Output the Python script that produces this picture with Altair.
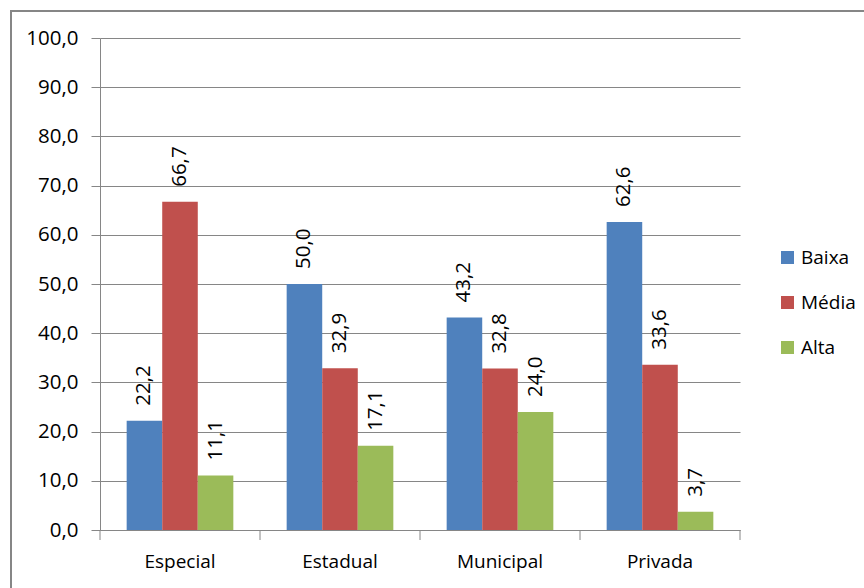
import altair as alt
import pandas as pd

# Rede de ensino (categorias) e nível (séries)
escolas = ["Especial", "Estadual", "Municipal", "Privada"]
niveis = ["Baixa", "Média", "Alta"]
baixa = [22.2, 50.0, 43.2, 62.6]
media = [66.7, 32.9, 32.8, 33.6]
alta = [11.1, 17.1, 24.0, 3.7]
cores = ["#4F81BD", "#C0504D", "#9BBB59"]
marcas_y = [0, 10, 20, 30, 40, 50, 60, 70, 80, 90, 100]

rows = []
for nivel, serie in zip(niveis, [baixa, media, alta]):
    for escola, v in zip(escolas, serie):
        rows.append({"escola": escola, "nivel": nivel, "valor": v})
df = pd.DataFrame(rows)

FONT = "Open Sans"
GRAY = "#868686"
INK = "#000000"
W, H = 640, 492

x_enc = alt.X(
    "escola:N", sort=escolas, title=None,
    scale=alt.Scale(paddingInner=0, paddingOuter=0),
    axis=alt.Axis(labelAngle=0, ticks=False, labelPadding=22,
                  domainColor=GRAY, domainWidth=1,
                  labelFont=FONT, labelFontSize=19, labelColor=INK),
)
xoff = alt.XOffset("nivel:N", sort=niveis,
                   scale=alt.Scale(paddingInner=0, paddingOuter=0.75))
y_enc = alt.Y(
    "valor:Q", title=None,
    scale=alt.Scale(domain=[0, 100], nice=False),
    axis=alt.Axis(values=marcas_y,
                  labelExpr="replace(format(datum.value, '.1f'), '.', ',')",
                  tickSize=9, labelPadding=13, tickColor=GRAY,
                  domainColor=GRAY, gridColor=GRAY, gridWidth=1,
                  labelFont=FONT, labelFontSize=20.5, labelColor=INK),
)
color = alt.Color(
    "nivel:N", sort=niveis, title=None,
    scale=alt.Scale(domain=niveis, range=cores),
    legend=alt.Legend(orient="none", legendX=678, legendY=210,
                      symbolType="square", symbolSize=169,
                      symbolStrokeWidth=0, labelFont=FONT,
                      labelFontSize=19, labelColor=INK, labelOffset=4,
                      rowPadding=25, padding=0),
)

base = alt.Chart(df)

bars = base.mark_bar(stroke=None).encode(x=x_enc, xOffset=xoff, y=y_enc, color=color)

labels = base.mark_text(
    angle=270, align="left", baseline="middle", dx=15,
    font=FONT, fontSize=20.5, color=INK,
).transform_calculate(
    rotulo="replace(format(datum.valor, '.1f'), '.', ',')"
).encode(x=alt.X("escola:N", sort=escolas), xOffset=xoff,
         y=alt.Y("valor:Q"), text="rotulo:N")

# category boundary ticks below the x axis
limites = alt.Chart(pd.DataFrame({"escola": escolas})).mark_rule(
    color=GRAY, strokeWidth=1
).encode(x=alt.X("escola:N", sort=escolas, bandPosition=0),
         y=alt.value(H), y2=alt.value(H + 10))
limite_final = alt.Chart(pd.DataFrame({"escola": ["fim"]})).mark_rule(
    color=GRAY, strokeWidth=1
).encode(x=alt.value(W), y=alt.value(H), y2=alt.value(H + 10))

# outer chart frame
moldura = alt.Chart(pd.DataFrame({"k": [0]})).mark_rect(
    fillOpacity=0, stroke=GRAY, strokeWidth=2
).encode(x=alt.value(-89), x2=alt.value(W + 140),
         y=alt.value(-27), y2=alt.value(H + 80))

chart = alt.layer(moldura, bars, labels, limites, limite_final).properties(
    width=W, height=H,
    autosize=alt.AutoSizeParams(type="none"),
    padding={"left": 100, "top": 38, "right": 124, "bottom": 58},
    background="white",
).configure_view(stroke=None)

chart.save("out.html", embed_options={"renderer": "svg", "actions": False})
